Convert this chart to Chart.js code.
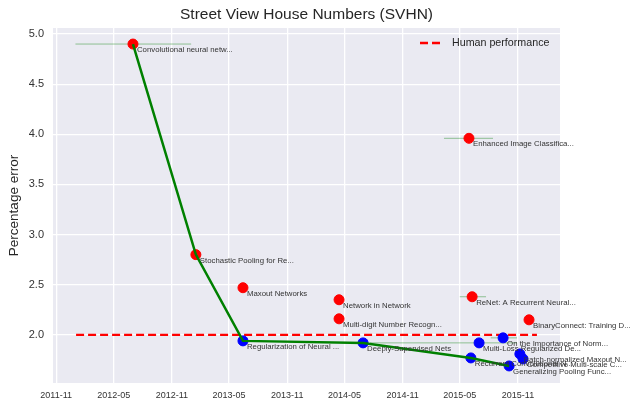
<!DOCTYPE html>
<html>
<head>
<meta charset="utf-8">
<script src="https://cdn.jsdelivr.net/npm/chart.js@4.4.0/dist/chart.umd.min.js"></script>
<style>
  html, body { margin: 0; padding: 0; background: #fff; }
  #wrap { width: 640px; height: 409px; }
</style>
</head>
<body>
<div id="wrap"><canvas id="svhnChart"></canvas></div>
<script>
// Papers
const paperLabels = [
    "Convolutional neural netw...", "Stochastic Pooling for Re...", "Maxout Networks",
    "Regularization of Neural ...", "Network in Network", "Multi-digit Number Recogn...",
    "Deeply-Supervised Nets", "Enhanced Image Classifica...", "ReNet: A Recurrent Neural...",
    "Recurrent Convolutional N...", "Multi-Loss Regularized De...", "On the Importance of Norm...",
    "Batch-normalized Maxout N...", "Competitive Multi-scale C...", "Generalizing Pooling Func...",
    "BinaryConnect: Training D..."
];
const paperDates = [
    "2012-07-01", "2013-01-16", "2013-06-14", "2013-06-14", "2014-04-14", "2014-04-14",
    "2014-06-29", "2015-05-30", "2015-06-09", "2015-06-05", "2015-07-01", "2015-09-15",
    "2015-11-07", "2015-11-17", "2015-10-04", "2015-12-06"
];
const paperErrors = [4.9, 2.8, 2.47, 1.94, 2.35, 2.16, 1.92, 3.96, 2.38, 1.77, 1.92, 1.97, 1.81, 1.76, 1.69, 2.15];
// Publication date ranges (only where the picture shows one)
const rangeStart = ["2012-01-01", null, null, null, null, null, null, "2015-03-12", "2015-05-01", null, "2014-07-21", "2015-08-07", null, null, null, null];
const rangeEnd   = ["2013-01-01", null, null, null, null, null, null, "2015-08-14", "2015-07-23", null, "2015-10-29", "2015-10-29", null, null, null, null];
// State of the art line
const frontierIdx = [0, 1, 3, 6, 9, 14];
// Human performance
const humanLevel = 2.0;
const humanSpan = ["2012-01-03", "2015-12-31"];
// Axis ticks
const xTicks = ["2011-11", "2012-05", "2012-11", "2013-05", "2013-11", "2014-05", "2014-11", "2015-05", "2015-11"];
const yTicks = [2.0, 2.5, 3.0, 3.5, 4.0, 4.5, 5.0];

const FONT = "'Liberation Sans', Arial, sans-serif";
const ms = (d) => new Date(d.length === 7 ? d + "-01" : d).getTime();

// Build datasets
const points = paperDates.map((d, i) => ({ x: ms(d), y: paperErrors[i] }));
const rangeData = [];
rangeStart.forEach((s, i) => {
    if (s) {
        rangeData.push({ x: ms(s), y: paperErrors[i] });
        rangeData.push({ x: ms(rangeEnd[i]), y: paperErrors[i] });
        rangeData.push({ x: ms(rangeEnd[i]), y: null });
    }
});
const frontierData = frontierIdx.map(i => points[i]);
const pointColors = paperErrors.map(v => v < humanLevel ? "#0000ff" : "#ff0000");

// Plugin: grey plot background
const plotBackground = {
    id: "plotBackground",
    beforeDraw(chart) {
        const { ctx, chartArea: a } = chart;
        ctx.save();
        ctx.fillStyle = "#eaeaf2";
        ctx.fillRect(a.left, a.top, a.right - a.left, a.bottom - a.top);
        ctx.restore();
    }
};

// Plugin: title, paper labels, legend
const annotations = {
    id: "annotations",
    afterDraw(chart) {
        const { ctx, chartArea: a, scales } = chart;
        ctx.save();
        // title
        ctx.fillStyle = "#262626";
        ctx.font = "15.5px " + FONT;
        ctx.textAlign = "center";
        ctx.textBaseline = "middle";
        ctx.fillText("Street View House Numbers (SVHN)", (a.left + a.right) / 2, 15);

        // paper labels
        ctx.font = "7.8px " + FONT;
        ctx.textAlign = "left";
        ctx.fillStyle = "#333333";
        paperLabels.forEach((label, i) => {
            const px = scales.x.getPixelForValue(ms(paperDates[i]));
            const py = scales.y.getPixelForValue(paperErrors[i]);
            ctx.fillText(label, px + 4, py + 6);
        });

        // legend
        const ly = 43;
        ctx.strokeStyle = "#ff0000";
        ctx.lineWidth = 2.3;
        ctx.setLineDash([8, 4]);
        ctx.beginPath();
        ctx.moveTo(420, ly);
        ctx.lineTo(443, ly);
        ctx.stroke();
        ctx.setLineDash([]);
        ctx.fillStyle = "#262626";
        ctx.font = "10.7px " + FONT;
        ctx.fillText("Human performance", 452, ly);
        ctx.restore();
    }
};

new Chart(document.getElementById("svhnChart"), {
    type: "line",
    data: {
        datasets: [
            {
                label: "State of the art",
                data: frontierData,
                borderColor: "#008000",
                borderWidth: 2.5,
                pointRadius: 0,
                fill: false,
                order: 0
            },
            {
                label: "Papers",
                type: "scatter",
                data: points,
                backgroundColor: pointColors,
                borderColor: pointColors,
                pointRadius: 5,
                pointHoverRadius: 5,
                order: 1
            },
            {
                label: "Human performance",
                data: humanSpan.map(d => ({ x: ms(d), y: humanLevel })),
                borderColor: "#ff0000",
                borderWidth: 2.3,
                borderDash: [8, 4],
                pointRadius: 0,
                fill: false,
                order: 2
            },
            {
                label: "Date ranges",
                data: rangeData,
                borderColor: "rgba(0, 128, 0, 0.4)",
                borderWidth: 1,
                pointRadius: 0,
                spanGaps: false,
                fill: false,
                order: 3
            }
        ]
    },
    options: {
        responsive: true,
        maintainAspectRatio: false,
        animation: false,
        layout: { padding: { top: 28, right: 80, left: 0, bottom: 0 } },
        scales: {
            x: {
                type: "linear",
                min: ms("2011-10-22"),
                max: ms("2016-03-13"),
                afterBuildTicks: (axis) => { axis.ticks = xTicks.map(t => ({ value: ms(t) })); },
                afterFit: (axis) => { axis.height = 26; },
                grid: { color: "#ffffff", lineWidth: 1.3, drawTicks: false },
                border: { display: false },
                ticks: {
                    padding: 7,
                    color: "#333333",
                    font: { family: FONT, size: 9 },
                    callback: (v) => {
                        const d = new Date(v);
                        return d.getUTCFullYear() + "-" + String(d.getUTCMonth() + 1).padStart(2, "0");
                    }
                }
            },
            y: {
                min: 1.52,
                max: 5.06,
                afterBuildTicks: (axis) => { axis.ticks = yTicks.map(v => ({ value: v })); },
                afterFit: (axis) => { axis.width = 53; },
                grid: { color: "#ffffff", lineWidth: 1.3, drawTicks: false },
                border: { display: false },
                title: {
                    display: true,
                    text: "Percentage error",
                    color: "#262626",
                    font: { family: FONT, size: 13.5 },
                    padding: { top: 6, bottom: 0 }
                },
                ticks: {
                    padding: 9,
                    color: "#333333",
                    font: { family: FONT, size: 11 },
                    callback: (v) => v.toFixed(1)
                }
            }
        },
        plugins: {
            legend: { display: false },
            title: { display: false },
            tooltip: { enabled: false }
        }
    },
    plugins: [plotBackground, annotations]
});
</script>
</body>
</html>
